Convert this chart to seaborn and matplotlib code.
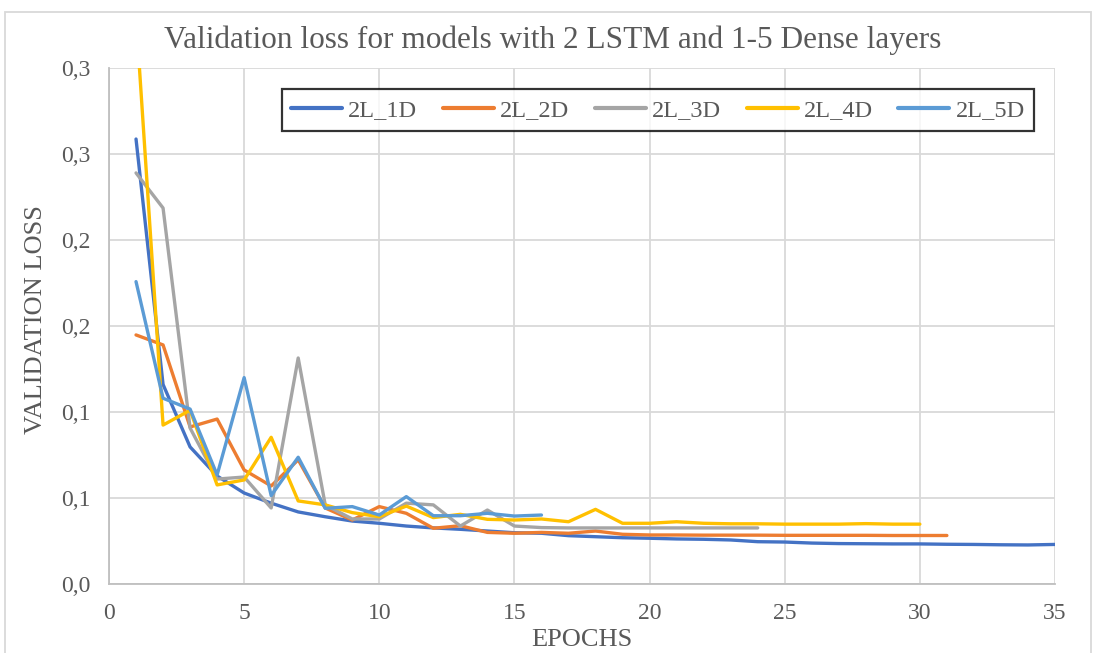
import numpy as np
import pandas as pd
import matplotlib
matplotlib.use("Agg")
import matplotlib.pyplot as plt
import seaborn as sns

# Validation loss per epoch for each model configuration
loss_2L_1D = [0.2587, 0.1160, 0.0797, 0.0628, 0.0529, 0.0470, 0.0419, 0.0391, 0.0366, 0.0353,
              0.0337, 0.0326, 0.0318, 0.0308, 0.0298, 0.0295, 0.0281, 0.0275, 0.0269, 0.0266,
              0.0262, 0.0260, 0.0256, 0.0246, 0.0244, 0.0238, 0.0235, 0.0234, 0.0233, 0.0233,
              0.0231, 0.0230, 0.0228, 0.0227, 0.0230]
loss_2L_2D = [0.1448, 0.1390, 0.0913, 0.0959, 0.0663, 0.0570, 0.0722, 0.0442, 0.0372, 0.0450,
              0.0411, 0.0324, 0.0339, 0.0300, 0.0295, 0.0300, 0.0295, 0.0308, 0.0289, 0.0285,
              0.0285, 0.0284, 0.0284, 0.0284, 0.0283, 0.0283, 0.0283, 0.0283, 0.0282, 0.0282,
              0.0282]
loss_2L_3D = [0.2390, 0.2186, 0.0907, 0.0610, 0.0622, 0.0442, 0.1314, 0.0460, 0.0378, 0.0378,
              0.0470, 0.0460, 0.0337, 0.0430, 0.0337, 0.0328, 0.0326, 0.0326, 0.0326, 0.0326,
              0.0326, 0.0326, 0.0326, 0.0326]
loss_2L_4D = [0.3300, 0.0924, 0.1010, 0.0576, 0.0605, 0.0853, 0.0483, 0.0460, 0.0415, 0.0391,
              0.0453, 0.0386, 0.0405, 0.0376, 0.0372, 0.0378, 0.0362, 0.0434, 0.0353, 0.0353,
              0.0362, 0.0353, 0.0350, 0.0350, 0.0348, 0.0348, 0.0348, 0.0351, 0.0348, 0.0348]
loss_2L_5D = [0.1758, 0.1080, 0.1017, 0.0634, 0.1200, 0.0514, 0.0737, 0.0440, 0.0450, 0.0401,
              0.0508, 0.0397, 0.0397, 0.0411, 0.0395, 0.0401]

model_names = ["2L_1D", "2L_2D", "2L_3D", "2L_4D", "2L_5D"]
series = [loss_2L_1D, loss_2L_2D, loss_2L_3D, loss_2L_4D, loss_2L_5D]
colors = ["#4472C4", "#ED7D31", "#A5A5A5", "#FFC000", "#5B9BD5"]

y_ticks = [0.0, 0.05, 0.10, 0.15, 0.20, 0.25, 0.30]
y_tick_labels = ["0,0", "0,1", "0,1", "0,2", "0,2", "0,3", "0,3"]
x_ticks = [0, 5, 10, 15, 20, 25, 30, 35]

rows = []
for name, vals in zip(model_names, series):
    for i, v in enumerate(vals):
        rows.append({"epoch": i + 1, "loss": v, "model": name})
df = pd.DataFrame(rows)

sns.set_theme(style="white")
plt.rcParams["font.family"] = ["Liberation Serif", "DejaVu Serif"]
text_color = "#595959"
grid_color = "#D9D9D9"

fig = plt.figure(figsize=(10.94, 6.53), dpi=100)
ax = fig.add_axes([109 / 1094, 1 - 584 / 653, (1055 - 109) / 1094, (584 - 68) / 653])

sns.lineplot(data=df, x="epoch", y="loss", hue="model", hue_order=model_names,
             palette=colors, linewidth=2.4, ax=ax, legend=True)

ax.set_xlim(0, 35)
ax.set_ylim(0, 0.30)
ax.set_xticks(x_ticks)
ax.set_yticks(y_ticks)
ax.set_yticklabels(y_tick_labels)
ax.tick_params(axis="both", labelsize=17, colors=text_color, length=0)
ax.tick_params(axis="x", pad=14)
ax.tick_params(axis="y", pad=13)
ax.grid(True, color=grid_color, linewidth=1.3)
ax.set_axisbelow(True)
for side in ["top", "right"]:
    ax.spines[side].set_visible(False)
for side in ["left", "bottom"]:
    ax.spines[side].set_color("#BFBFBF")
    ax.spines[side].set_linewidth(1.3)

ax.set_xlabel("EPOCHS", fontsize=19, color=text_color)
ax.set_ylabel("VALIDATION LOSS", fontsize=19, color=text_color)
ax.xaxis.set_label_coords(0.5, (584 - 629) / 516)
ax.yaxis.set_label_coords((47 - 109) / 946, (584 - 320) / 516)

fig.text(553 / 1094, 1 - 40 / 653, "Validation loss for models with 2 LSTM and 1-5 Dense layers",
         ha="center", va="center", fontsize=22.5, color=text_color)

leg = ax.legend(ncol=5, loc="center", bbox_to_anchor=((658 - 109) / 946, (584 - 110) / 516),
                fontsize=17.5, frameon=True, fancybox=False, handlelength=2.1,
                columnspacing=1.05, handletextpad=0.25, borderpad=0.4)
leg.get_frame().set_edgecolor("black")
leg.get_frame().set_linewidth(1.6)
for t in leg.get_texts():
    t.set_color(text_color)
for h in leg.get_lines():
    h.set_linewidth(3.0)

# outer chart-area border
fig.add_artist(plt.Rectangle((5 / 1094, -0.05), 1086 / 1094, 1.05 - 12 / 653,
                             transform=fig.transFigure, fill=False,
                             edgecolor="#D9D9D9", linewidth=1.3))

fig.savefig("out.png", dpi=100)
